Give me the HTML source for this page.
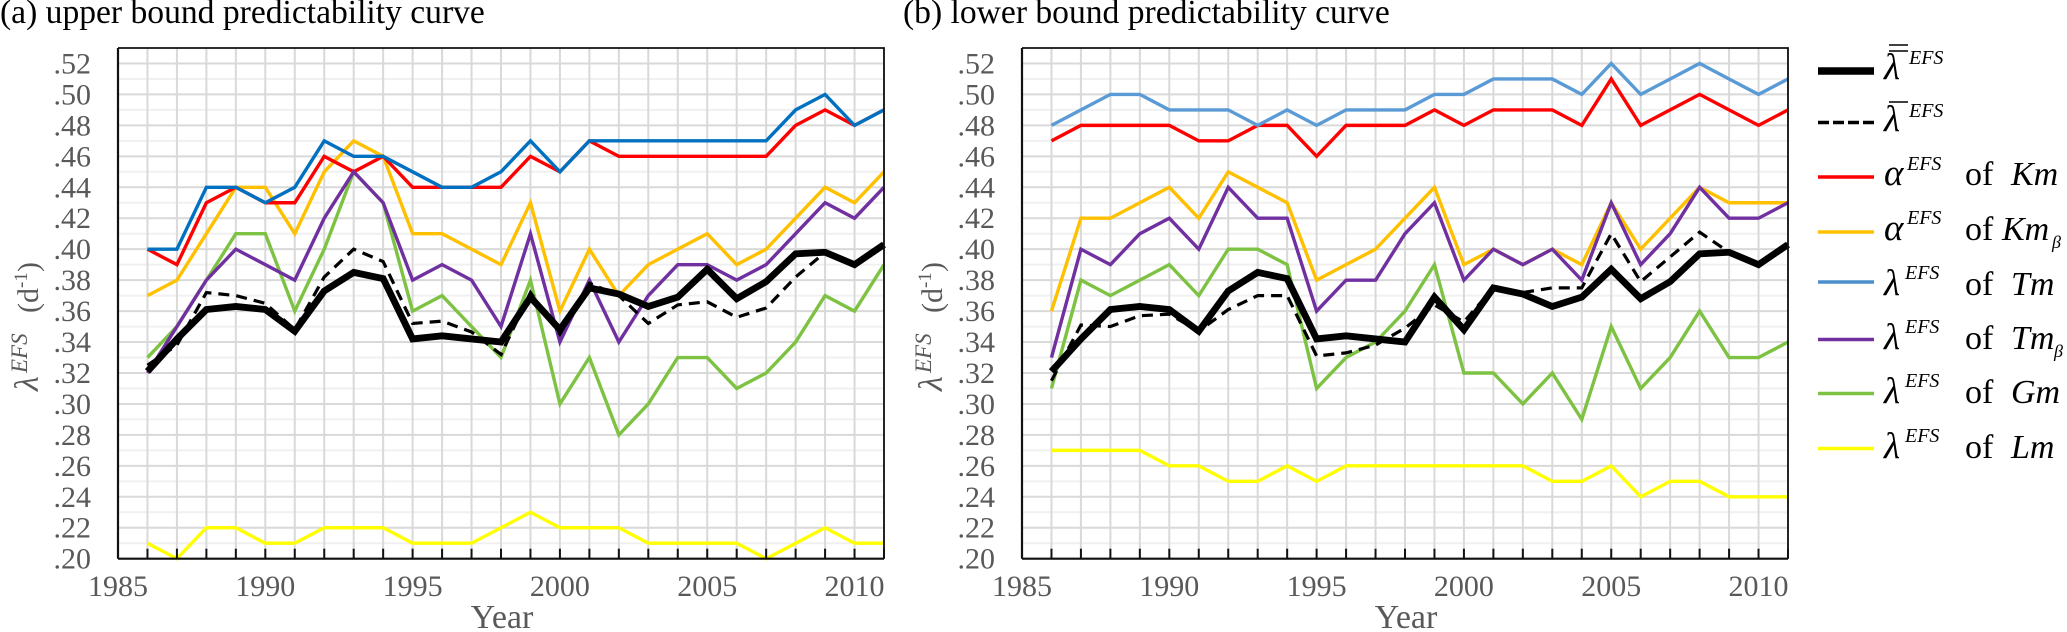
<!DOCTYPE html>
<html lang="en">
<head>
<meta charset="utf-8">
<title>Upper and lower bound predictability curves</title>
<style>
html,body{margin:0;padding:0;background:#fff;}
body{width:2067px;height:632px;overflow:hidden;}
svg{display:block;font-family:"Liberation Serif",serif;}
.ser{font-style:italic;}
</style>
</head>
<body>
<svg id="chart" width="2067" height="632" viewBox="0 0 2067 632" xmlns="http://www.w3.org/2000/svg">
  <g id="panel-a"></g>
  <g id="panel-b" transform="translate(904 0)"></g>
  <g id="legend" fill="#000">
    <g>
      <line x1="1818" x2="1874" y1="71" y2="71" stroke="#000" stroke-width="7.5"/>
      <line x1="1889" x2="1908" y1="45" y2="45" stroke="#000" stroke-width="1.6"/>
      <line x1="1889" x2="1908" y1="51" y2="51" stroke="#000" stroke-width="1.6"/>
      <text class="ser" x="1884" y="79" font-size="37">λ</text>
      <text class="ser" x="1909" y="64" font-size="20">EFS</text>
    </g>
    <g>
      <line x1="1818" x2="1874" y1="122.500" y2="122.500" stroke="#000" stroke-width="3.6" stroke-dasharray="11 4"/>
      <line x1="1889" x2="1908" y1="102" y2="102" stroke="#000" stroke-width="1.6"/>
      <text class="ser" x="1884" y="131" font-size="37">λ</text>
      <text class="ser" x="1909" y="117" font-size="20">EFS</text>
    </g>
    <g>
      <line x1="1818" x2="1874" y1="177" y2="177" stroke="#ff0000" stroke-width="3.6"/>
      <text class="ser" x="1884" y="185" font-size="37">α</text>
      <text class="ser" x="1907" y="170" font-size="20">EFS</text>
      <text x="1965" y="185" font-size="34">of</text>
      <text class="ser" x="2011" y="185" font-size="34">Km</text>
    </g>
    <g>
      <line x1="1818" x2="1874" y1="232" y2="232" stroke="#ffc000" stroke-width="3.6"/>
      <text class="ser" x="1884" y="240" font-size="37">α</text>
      <text class="ser" x="1907" y="224" font-size="20">EFS</text>
      <text x="1965" y="240" font-size="34">of</text>
      <text class="ser" x="2002" y="240" font-size="34">Km</text>
      <text class="ser" x="2052" y="248" font-size="18">β</text>
    </g>
    <g>
      <line x1="1818" x2="1874" y1="282" y2="282" stroke="#4a8fcb" stroke-width="3.6"/>
      <text class="ser" x="1884" y="295" font-size="37">λ</text>
      <text class="ser" x="1905" y="279" font-size="20">EFS</text>
      <text x="1965" y="295" font-size="34">of</text>
      <text class="ser" x="2011" y="295" font-size="34">Tm</text>
    </g>
    <g>
      <line x1="1818" x2="1874" y1="339.500" y2="339.500" stroke="#7030a0" stroke-width="3.6"/>
      <text class="ser" x="1884" y="349" font-size="37">λ</text>
      <text class="ser" x="1905" y="333" font-size="20">EFS</text>
      <text x="1965" y="349" font-size="34">of</text>
      <text class="ser" x="2011" y="349" font-size="34">Tm</text>
      <text class="ser" x="2054" y="357" font-size="18">β</text>
    </g>
    <g>
      <line x1="1818" x2="1874" y1="393.500" y2="393.500" stroke="#7dc242" stroke-width="3.6"/>
      <text class="ser" x="1884" y="403" font-size="37">λ</text>
      <text class="ser" x="1905" y="387" font-size="20">EFS</text>
      <text x="1965" y="403" font-size="34">of</text>
      <text class="ser" x="2011" y="403" font-size="34">Gm</text>
    </g>
    <g>
      <line x1="1818" x2="1874" y1="448.500" y2="448.500" stroke="#ffff00" stroke-width="3.6"/>
      <text class="ser" x="1884" y="458" font-size="37">λ</text>
      <text class="ser" x="1905" y="442" font-size="20">EFS</text>
      <text x="1965" y="458" font-size="34">of</text>
      <text class="ser" x="2011" y="458" font-size="34">Lm</text>
    </g>
  </g>
</svg>
<script>
const years = [1986,1987,1988,1989,1990,1991,1992,1993,1994,1995,1996,1997,1998,1999,2000,2001,2002,2003,2004,2005,2006,2007,2008,2009,2010,2011];
const yTickValues = [0.20,0.22,0.24,0.26,0.28,0.30,0.32,0.34,0.36,0.38,0.40,0.42,0.44,0.46,0.48,0.50,0.52];
const yTickLabels = ['.20','.22','.24','.26','.28','.30','.32','.34','.36','.38','.40','.42','.44','.46','.48','.50','.52'];
const xTickLabels = [1985,1990,1995,2000,2005,2010];

const meanOfMeans = [.321,.342,.361,.363,.361,.347,.373,.385,.381,.342,.344,.342,.340,.369,.348,.375,.371,.363,.369,.387,.368,.379,.397,.398,.390,.403];

const upperMean = [.325,.338,.372,.370,.365,.348,.382,.400,.392,.352,.3535,.3465,.332,.372,.345,.378,.370,.352,.364,.366,.356,.362,.382,.398,.390,.403];
const upperKm = [.40,.39,.43,.44,.43,.43,.46,.45,.46,.44,.44,.44,.44,.46,.45,.47,.46,.46,.46,.46,.46,.46,.48,.49,.48,.49];
const upperKmBeta = [.37,.38,.41,.44,.44,.41,.45,.47,.46,.41,.41,.40,.39,.43,.36,.40,.37,.39,.40,.41,.39,.40,.42,.44,.43,.45];
const upperTm = [.40,.40,.44,.44,.43,.44,.47,.46,.46,.45,.44,.44,.45,.47,.45,.47,.47,.47,.47,.47,.47,.47,.49,.50,.48,.49];
const upperTmBeta = [.32,.35,.38,.40,.39,.38,.42,.45,.43,.38,.39,.38,.35,.41,.34,.38,.34,.37,.39,.39,.38,.39,.41,.43,.42,.44];
const upperGm = [.33,.35,.38,.41,.41,.36,.40,.45,.43,.36,.37,.35,.33,.38,.30,.33,.28,.30,.33,.33,.31,.32,.34,.37,.36,.39];
const upperLm = [.21,.20,.22,.22,.21,.21,.22,.22,.22,.21,.21,.21,.22,.23,.22,.22,.22,.21,.21,.21,.21,.20,.21,.22,.21,.21];

const lowerMean = [.315,.351,.350,.357,.358,.347,.361,.370,.370,.331,.333,.338,.349,.364,.353,.375,.372,.375,.375,.410,.379,.395,.411,.398,.390,.403];
const lowerKm = [.47,.48,.48,.48,.48,.47,.47,.48,.48,.46,.48,.48,.48,.49,.48,.49,.49,.49,.48,.51,.48,.49,.50,.49,.48,.49];
const lowerKmBeta = [.36,.42,.42,.43,.44,.42,.45,.44,.43,.38,.39,.40,.42,.44,.39,.40,.39,.40,.39,.43,.40,.42,.44,.43,.43,.43];
const lowerTm = [.48,.49,.50,.50,.49,.49,.49,.48,.49,.48,.49,.49,.49,.50,.50,.51,.51,.51,.50,.52,.50,.51,.52,.51,.50,.51];
const lowerTmBeta = [.33,.40,.39,.41,.42,.40,.44,.42,.42,.36,.38,.38,.41,.43,.38,.40,.39,.40,.38,.43,.39,.41,.44,.42,.42,.43];
const lowerGm = [.31,.38,.37,.38,.39,.37,.40,.40,.39,.31,.33,.34,.36,.39,.32,.32,.30,.32,.29,.35,.31,.33,.36,.33,.33,.34];
const lowerLm = [.27,.27,.27,.27,.26,.26,.25,.25,.26,.25,.26,.26,.26,.26,.26,.26,.26,.25,.25,.26,.24,.25,.25,.24,.24,.24];

const NS = 'http://www.w3.org/2000/svg';
const plotLeft = 118, plotRight = 884, plotTop = 48, plotBottom = 558.7;
const xMin = 1985, xMax = 2011, yMin = 0.20, yMax = 0.53;

function xScale(year) {
  return plotLeft + (year - xMin) / (xMax - xMin) * (plotRight - plotLeft);
}
function yScale(value) {
  return plotBottom - (value - yMin) / (yMax - yMin) * (plotBottom - plotTop);
}
function make(parent, tag, attrs, text) {
  const el = document.createElementNS(NS, tag);
  for (const k in attrs) el.setAttribute(k, attrs[k]);
  if (text !== undefined) el.textContent = text;
  parent.appendChild(el);
  return el;
}

function drawGrid(g) {
  for (let i = 1; i < 33; i += 2) {
    const minor = make(g, 'line', {x1: plotLeft, x2: plotRight, y1: yScale(yMin + i * 0.01), y2: yScale(yMin + i * 0.01), stroke: '#f0f0f0', 'stroke-width': 2});
    
    
  }
  yTickValues.forEach(function (v) {
    const major = make(g, 'line', {x1: plotLeft, x2: plotRight, y1: yScale(v), y2: yScale(v), stroke: '#d9d9d9', 'stroke-width': 2});
    
    
  });
  years.forEach(function (y) {
    const vert = make(g, 'line', {x1: xScale(y), x2: xScale(y), y1: plotTop, y2: plotBottom, stroke: '#d9d9d9', 'stroke-width': 2});
    
    
  });
}

function drawAxes(g) {
  const frame = make(g, 'path', {d: 'M' + plotLeft + ' ' + plotTop + 'H' + plotRight + 'V' + plotBottom, fill: 'none', stroke: '#111', 'stroke-width': 1.8});
  
  
  const yAxis = make(g, 'line', {x1: plotLeft, x2: plotLeft, y1: plotTop, y2: plotBottom, stroke: '#111', 'stroke-width': 2.2});
  
  
  const xAxis = make(g, 'line', {x1: plotLeft, x2: plotRight, y1: plotBottom, y2: plotBottom, stroke: '#111', 'stroke-width': 2.2});
  
  
  years.forEach(function (y) {
    const tick = make(g, 'line', {x1: xScale(y), x2: xScale(y), y1: plotBottom - 10, y2: plotBottom, stroke: '#111', 'stroke-width': 2});
    
    
  });
  yTickValues.forEach(function (v, i) {
    const label = make(g, 'text', {x: 91, y: yScale(v) + 10, 'text-anchor': 'end', 'font-size': 30, fill: '#595959'}, yTickLabels[i]);
    
    
  });
  xTickLabels.forEach(function (y) {
    const label = make(g, 'text', {x: xScale(y), y: 596, 'text-anchor': 'middle', 'font-size': 30, fill: '#595959'}, String(y));
    
    
  });
  const xTitle = make(g, 'text', {x: 502, y: 628, 'text-anchor': 'middle', 'font-size': 34, fill: '#595959'}, 'Year');
  
  

  const yTitle = make(g, 'g', {transform: 'translate(38 391) rotate(-90)', fill: '#595959'});
  
  
  make(yTitle, 'text', {x: 0, y: 0, 'font-size': 34, 'font-style': 'italic'}, 'λ');
  make(yTitle, 'text', {x: 18, y: -11, 'font-size': 23, 'font-style': 'italic'}, 'EFS');
  make(yTitle, 'text', {x: 78, y: 0, 'font-size': 30}, '(d');
  make(yTitle, 'text', {x: 103, y: -11, 'font-size': 19}, '-1');
  make(yTitle, 'text', {x: 119, y: 0, 'font-size': 30}, ')');
}

function drawSeries(g, values, seriesName, color, width, dash) {
  let d = '';
  values.forEach(function (v, i) {
    d += (i ? 'L' : 'M') + xScale(years[i]).toFixed(2) + ' ' + yScale(v).toFixed(2);
  });
  const attrs = {d: d, fill: 'none', stroke: color, 'stroke-width': width, 'stroke-linejoin': 'miter'};
  if (dash) attrs['stroke-dasharray'] = dash;
  const line = make(g, 'path', attrs);
  
  
}

function drawPanel(g, title, titleX, s, tmColor) {
  const t = make(g, 'text', {x: titleX, y: 23, 'font-size': 33.6, fill: '#000'}, title);
  
  
  drawGrid(g);
  drawSeries(g, s.lm, 'series-lambda-lm', '#ffff00', 3.4);
  drawSeries(g, s.gm, 'series-lambda-gm', '#7dc242', 3.4);
  drawSeries(g, s.kmBeta, 'series-alpha-km-beta', '#ffc000', 3.4);
  drawSeries(g, s.km, 'series-alpha-km', '#ff0000', 3.4);
  drawSeries(g, s.tm, 'series-lambda-tm', tmColor, 3.4);
  drawSeries(g, s.tmBeta, 'series-lambda-tm-beta', '#7030a0', 3.4);
  drawSeries(g, s.mean, 'series-mean', '#000000', 3.2, '11 7');
  drawSeries(g, meanOfMeans, 'series-mean-of-means', '#000000', 6.8);
  drawAxes(g);
}

drawPanel(document.getElementById('panel-a'), '(a) upper bound predictability curve', 0,
  {lm: upperLm, gm: upperGm, kmBeta: upperKmBeta, km: upperKm, tm: upperTm, tmBeta: upperTmBeta, mean: upperMean}, '#0070c0');
drawPanel(document.getElementById('panel-b'), '(b) lower bound predictability curve', -1,
  {lm: lowerLm, gm: lowerGm, kmBeta: lowerKmBeta, km: lowerKm, tm: lowerTm, tmBeta: lowerTmBeta, mean: lowerMean}, '#5b9bd5');
</script>
</body>
</html>
